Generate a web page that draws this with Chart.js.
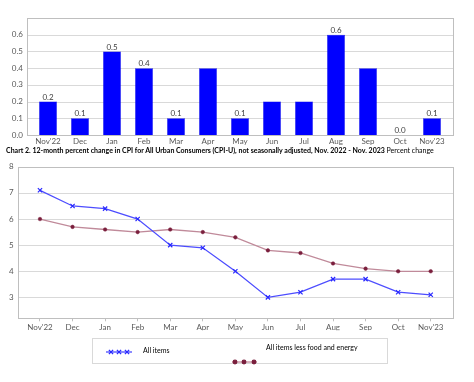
<!DOCTYPE html>
<html>
<head>
<meta charset="utf-8">
<script src="https://cdn.jsdelivr.net/npm/chart.js@4/dist/chart.umd.min.js"></script>
<style>
    body { margin: 0; background: #fff; width: 474px; height: 382px; overflow: hidden; position: relative; font-family: Lato, "Open Sans", sans-serif; }
    #top-chart { position: absolute; left: 0; top: 0; }
    #caption { position: absolute; left: 6px; top: 146px; font-size: 7px; line-height: 9px; white-space: nowrap; color: #000; }
    #bottom-chart { position: absolute; left: 0; top: 152px; }
</style>
</head>
<body>
<canvas id="top-chart" width="474" height="150"></canvas>
<div id="caption"><b>Chart 2. 12-month percent change in CPI for All Urban Consumers (CPI-U), not seasonally adjusted, Nov. 2022 - Nov. 2023</b> Percent change</div>
<canvas id="bottom-chart" width="474" height="230"></canvas>
<script>
// --- Data ---
const months = ["Nov'22", 'Dec', 'Jan', 'Feb', 'Mar', 'Apr', 'May', 'Jun', 'Jul', 'Aug', 'Sep', 'Oct', "Nov'23"];

// 1-month percent change (top bars)
const monthlyChange = [0.2, 0.1, 0.5, 0.4, 0.1, 0.4, 0.1, 0.2, 0.2, 0.6, 0.4, 0.0, 0.1];
const labelShown = [true, true, true, true, true, false, true, false, false, true, false, true, true];
const topTicks = [0, 0.1, 0.2, 0.3, 0.4, 0.5, 0.6];

// 12-month percent change (bottom lines)
const allItems = [7.1, 6.5, 6.4, 6.0, 5.0, 4.9, 4.0, 3.0, 3.2, 3.7, 3.7, 3.2, 3.1];
const coreItems = [6.0, 5.7, 5.6, 5.5, 5.6, 5.5, 5.3, 4.8, 4.7, 4.3, 4.1, 4.0, 4.0];
const bottomTicks = [3, 4, 5, 6, 7, 8];

const FONT = 'Lato, "Open Sans", sans-serif';
const TICK_COLOR = '#595959';

// plot frame + horizontal gridlines, frame sits a few px outside the category band
const framePlugin = {
    id: 'frame',
    beforeDatasetsDraw(chart, args, opts) {
        const { ctx, chartArea: a } = chart;
        const y = chart.scales.y;
        const l = Math.round(a.left - opts.padL) + 0.5;
        const r = Math.round(a.right + opts.padR) + 0.5;
        ctx.save();
        ctx.lineWidth = 1;
        ctx.strokeStyle = '#d9d9d9';
        y.ticks.forEach(t => {
            const py = Math.round(y.getPixelForValue(t.value)) + 0.5;
            ctx.beginPath();
            ctx.moveTo(l, py);
            ctx.lineTo(r, py);
            ctx.stroke();
        });
        ctx.strokeStyle = '#bfbfbf';
        const top = Math.round(a.top) + 0.5;
        const bot = Math.round(a.bottom) + 0.5;
        ctx.strokeRect(l, top, r - l, bot - top);
        ctx.restore();
    }
};

// value labels over bars
const barLabelPlugin = {
    id: 'barLabels',
    afterDatasetsDraw(chart) {
        const { ctx } = chart;
        const meta = chart.getDatasetMeta(0);
        ctx.save();
        ctx.font = '8px ' + FONT;
        ctx.fillStyle = '#404040';
        ctx.textAlign = 'center';
        ctx.textBaseline = 'bottom';
        meta.data.forEach((bar, i) => {
            if (!labelShown[i]) return;
            ctx.fillText(monthlyChange[i].toFixed(1), bar.x, bar.y - 0.5);
        });
        ctx.restore();
    }
};

// --- Top chart: bars ---
new Chart(document.getElementById('top-chart'), {
    type: 'bar',
    data: {
        labels: months,
        datasets: [{
            data: monthlyChange,
            backgroundColor: '#0000ff',
            borderColor: '#0000e0',
            borderWidth: 0.5,
            barPercentage: 0.56,
            categoryPercentage: 1
        }]
    },
    options: {
        responsive: false,
        animation: false,
        layout: { padding: { left: 0, right: 26, top: 18, bottom: 3 } },
        plugins: {
            legend: { display: false },
            tooltip: { enabled: false },
            frame: { padL: 5.5, padR: 5 }
        },
        scales: {
            x: {
                grid: { display: false, drawTicks: false },
                border: { display: false },
                ticks: { font: { family: FONT, size: 8 }, color: TICK_COLOR, padding: 2, maxRotation: 0, autoSkip: false },
                afterFit: s => { s.height = 12; }
            },
            y: {
                min: 0,
                max: 0.7,
                grid: { display: false, drawTicks: false },
                border: { display: false },
                afterBuildTicks: s => { s.ticks = topTicks.map(v => ({ value: v })); },
                ticks: { font: { family: FONT, size: 8 }, color: TICK_COLOR, padding: 9, callback: v => v.toFixed(1) },
                afterFit: s => { s.width = 32; }
            }
        }
    },
    plugins: [framePlugin, barLabelPlugin]
});

// custom legend, laid out like the original box
const legendPlugin = {
    id: 'boxLegend',
    afterDraw(chart) {
        const { ctx } = chart;
        const ds = chart.data.datasets;
        ctx.save();
        ctx.strokeStyle = '#d9d9d9';
        ctx.lineWidth = 1;
        ctx.strokeRect(92.5, 186.5, 295, 25);

        const entries = [
            { d: ds[0], x0: 106, x1: 132, y: 200, marks: [111, 119, 127], tx: 143, ty: 199 },
            { d: ds[1], x0: 232, x1: 257, y: 210, marks: [235, 244, 254], tx: 266, ty: 196 }
        ];
        entries.forEach(e => {
            ctx.strokeStyle = e.d.borderColor;
            ctx.lineWidth = e.d.borderWidth;
            ctx.beginPath();
            ctx.moveTo(e.x0, e.y);
            ctx.lineTo(e.x1, e.y);
            ctx.stroke();
            ctx.strokeStyle = e.d.pointBorderColor;
            ctx.fillStyle = e.d.pointBackgroundColor;
            e.marks.forEach(mx => {
                Chart.helpers.drawPoint(ctx, {
                    pointStyle: e.d.pointStyle,
                    radius: e.d.pointRadius,
                    rotation: 0,
                    borderWidth: e.d.pointBorderWidth
                }, mx, e.y);
            });
            ctx.font = '7px ' + FONT;
            ctx.fillStyle = '#000';
            ctx.textAlign = 'left';
            ctx.textBaseline = 'middle';
            ctx.fillText(e.d.label, e.tx, e.ty);
        });
        ctx.restore();
    }
};

// --- Bottom chart: lines ---
new Chart(document.getElementById('bottom-chart'), {
    type: 'line',
    data: {
        labels: months,
        datasets: [{
            label: 'All items',
            data: allItems,
            borderColor: '#4d4dff',
            borderWidth: 1.3,
            pointStyle: 'crossRot',
            pointRadius: 3,
            pointBorderColor: '#2828ff',
            pointBackgroundColor: '#2828ff',
            pointBorderWidth: 1.2,
            tension: 0
        }, {
            label: 'All items less food and energy',
            data: coreItems,
            borderColor: '#c08a9a',
            borderWidth: 1.3,
            pointStyle: 'circle',
            pointRadius: 1.8,
            pointBorderColor: '#7a1f3d',
            pointBackgroundColor: '#7a1f3d',
            pointBorderWidth: 0.5,
            tension: 0
        }]
    },
    options: {
        responsive: false,
        animation: false,
        layout: { padding: { left: 0, right: 27, top: 6.5, bottom: 51.7 } },
        plugins: {
            legend: { display: false },
            tooltip: { enabled: false },
            frame: { padL: 5.7, padR: 5.7 }
        },
        scales: {
            x: {
                offset: true,
                grid: { display: true, offset: false, drawOnChartArea: false, drawTicks: true, tickLength: 3, color: '#bfbfbf' },
                border: { display: false },
                ticks: { font: { family: FONT, size: 8 }, color: TICK_COLOR, padding: 1, maxRotation: 0, autoSkip: false },
                afterFit: s => { s.height = 12; }
            },
            y: {
                min: 2.2,
                max: 8,
                grid: { display: false, drawTicks: false },
                border: { display: false },
                afterBuildTicks: s => { s.ticks = bottomTicks.map(v => ({ value: v })); },
                ticks: { font: { family: FONT, size: 8 }, color: TICK_COLOR, padding: 10 },
                afterFit: s => { s.width = 23.7; }
            }
        }
    },
    plugins: [framePlugin, legendPlugin]
});
</script>
</body>
</html>
